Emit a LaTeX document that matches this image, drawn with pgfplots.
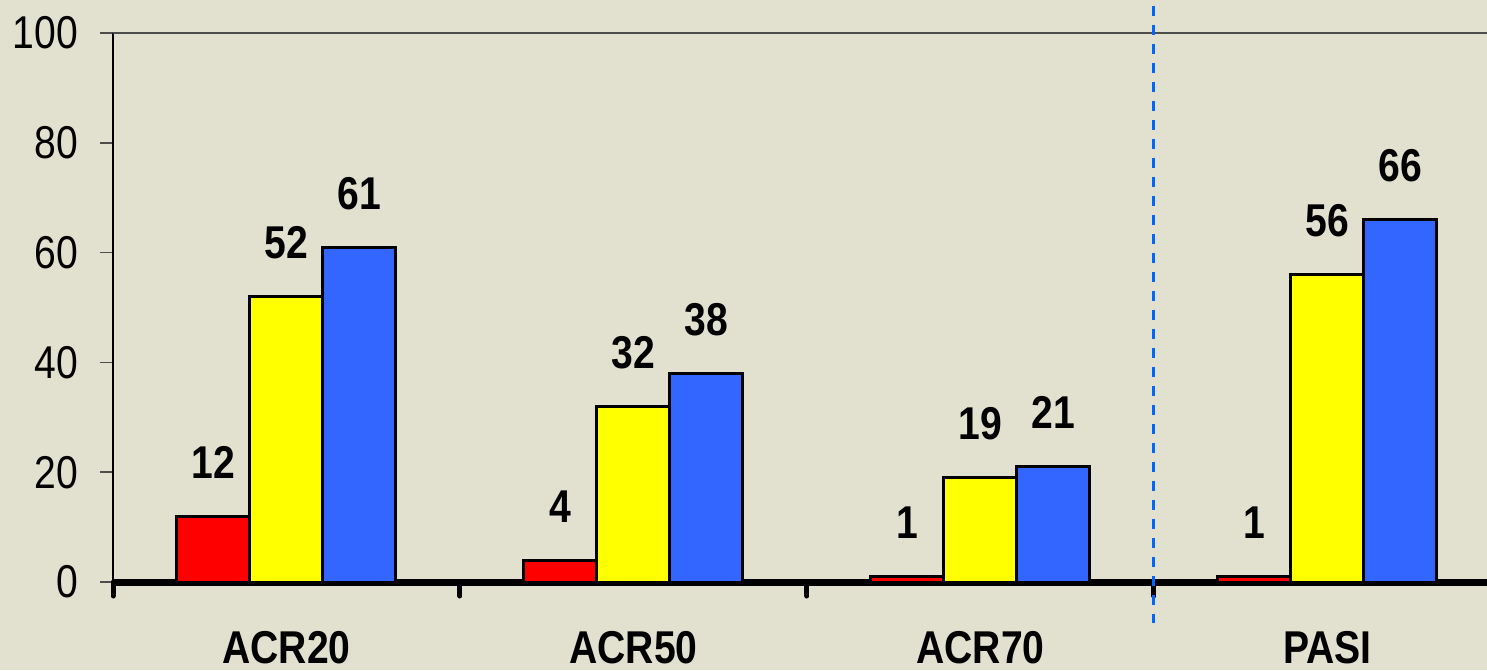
\documentclass[border=0pt]{standalone}
\usepackage{fontspec}
\setmainfont{Liberation Sans}[FakeStretch=0.85]
\usepackage{pgfplots}
\pgfplotsset{compat=1.18}
\definecolor{paper}{RGB}{226,224,207}
\definecolor{barred}{RGB}{255,0,0}
\definecolor{baryellow}{RGB}{255,255,0}
\definecolor{barblue}{RGB}{51,102,255}
\definecolor{divider}{RGB}{0,102,255}
\begin{document}
\begin{tikzpicture}
\fill[paper] (0,0) rectangle (1487pt,670pt);
\useasboundingbox (0,0) rectangle (1487pt,670pt);
\begin{axis}[
  at={(113pt,88pt)}, anchor=south west,
  scale only axis, width=1374pt, height=549pt,
  xmin=-0.5, xmax=3.46, ymin=0, ymax=100,
  axis lines*=left,
  x axis line style={line width=7pt, black},
  y axis line style={line width=2pt, black},
  ybar=0pt, bar width=73pt,
  xtick={0,1,2,3}, xticklabels={ACR20,ACR50,ACR70,PASI},
  xtick style={draw=none},
  xticklabel style={font=\fontsize{46}{46}\selectfont\bfseries, anchor=base, yshift=-68pt},
  ytick={0,20,...,100},
  yticklabel style={font=\fontsize{46}{46}\selectfont, anchor=east, inner sep=0pt, xshift=-22pt},
  ytick style={draw=black!70, line width=1.5pt},
  major tick length=13pt, tick align=outside,
  nodes near coords,
  every node near coord/.append style={font=\fontsize{46}{46}\selectfont\bfseries, anchor=base, yshift=38pt, inner sep=0pt, black},
  /pgf/number format/assume math mode=true,
  clip=false,
]
\addplot[draw=black, line width=3pt, fill=barred] coordinates {(0,12) (1,4) (2,1) (3,1)};
\addplot[draw=black, line width=3pt, fill=baryellow] coordinates {(0,52) (1,32) (2,19) (3,56)};
\addplot[draw=black, line width=3pt, fill=barblue] coordinates {(0,61) (1,38) (2,21) (3,66)};
% frame line along the top of the plot area
\draw[black!70, line width=1.5pt] (axis cs:-0.5,100) -- (axis cs:3.46,100);
% category separators below the baseline
\draw[black, line width=5pt, line cap=round] (axis cs:-0.5,0) -- (axis cs:-0.5,-2.55);
\draw[black, line width=5pt, line cap=round] (axis cs:0.5,0) -- (axis cs:0.5,-2.55);
\draw[black, line width=5pt, line cap=round] (axis cs:1.5,0) -- (axis cs:1.5,-2.55);
\draw[black, line width=5pt, line cap=round] (axis cs:2.5,0) -- (axis cs:2.5,-2.55);
% divider between the ACR measures and PASI
\draw[divider, line width=3pt, dash pattern=on 10pt off 9pt] (axis cs:2.5,105) -- (axis cs:2.5,-7.5);
\end{axis}
\end{tikzpicture}
\end{document}
